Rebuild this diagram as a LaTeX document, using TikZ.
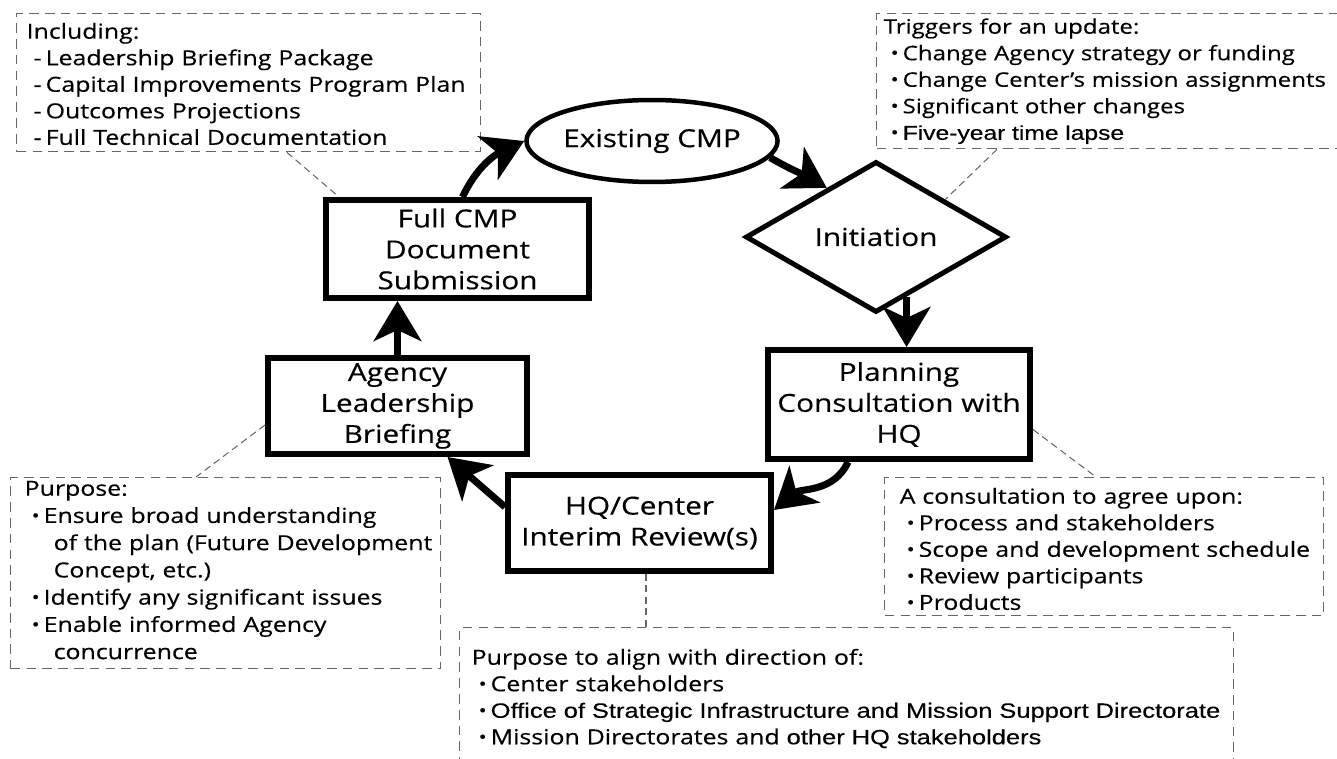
\documentclass[tikz,border=0pt]{standalone}
\usepackage{fontspec}
\setmainfont{Open Sans}[FakeStretch=1.2, FakeBold=0.4]
\newfontfamily\narrowfont{Liberation Sans}[FakeStretch=1.23, FakeBold=0.3]
\usetikzlibrary{shapes.geometric, arrows.meta, positioning, calc}
\newcommand{\bul}{\raisebox{0.1ex}{\fontsize{10}{10}\selectfont\textbullet}}
\newcommand{\hd}[1]{\mbox{#1}}
\newcommand{\itm}[1]{\mbox{\hspace*{0.14cm}\makebox[0.24cm][l]{\bul}#1}}
\newcommand{\dsh}[1]{\mbox{\hspace*{0.14cm}\makebox[0.24cm][l]{-}#1}}
\newcommand{\cont}[1]{\mbox{\hspace*{0.58cm}#1}}

\begin{document}
\begin{tikzpicture}[x=0.02cm, y=-0.02cm,
    stage/.style={draw, line width=0.12cm, align=center, inner sep=0pt, font=\fontsize{14.1}{17.6}\selectfont},
    oval/.style={draw, ellipse, line width=0.09cm, minimum width=4.95cm, minimum height=1.64cm, inner sep=0pt, font=\fontsize{14.1}{17.6}\selectfont},
    decision/.style={draw, diamond, line width=0.1cm, minimum width=5.22cm, minimum height=3.02cm, inner sep=0pt, font=\fontsize{14.1}{17.6}\selectfont},
    note/.style={draw=black!60, line width=0.8pt, dash pattern=on 5.5pt off 3.5pt, anchor=north west, align=left, inner ysep=0pt, font=\fontsize{11.8}{15.1}\selectfont},
    arr/.style={-{Stealth[length=0.8cm, width=0.95cm, inset=0.22cm]}, line width=0.14cm},
    link/.style={draw=black!60, line width=0.6pt, dash pattern=on 4pt off 2.5pt}
  ]
  \useasboundingbox (0,0) rectangle (1337,759);
  \clip (0,0) rectangle (1337,759);

  \node[oval] (existing) at (652,141) {Existing CMP};
  \node[decision] (init) at (876,237) {Initiation};
  \node[stage, minimum width=5.24cm, minimum height=2.18cm] (plan) at (899,404.5) {Planning\\Consultation with\\HQ};
  \node[stage, minimum width=5.26cm, minimum height=1.92cm] (hq) at (639.5,523) {HQ/Center\\Interim Review(s)};
  \node[stage, minimum width=5.18cm, minimum height=1.92cm] (agency) at (397.5,406) {Agency\\Leadership\\Briefing};
  \node[stage, minimum width=5.26cm, minimum height=1.96cm] (fullcmp) at (457.5,249) {Full CMP\\Document\\Submission};

  \node[note, inner xsep=0.2cm, text width=8.88cm, text height=0.5cm, text depth=2.26cm] (incl) at (16,13)
    {\hd{Including:}\\ \dsh{Leadership Briefing Package}\\ \dsh{Capital Improvements Program Plan}\\ \dsh{Outcomes Projections}\\ \dsh{Full Technical Documentation}};
  \node[note, inner xsep=0.14cm, text width=9.32cm, text height=0.4cm, text depth=2.30cm, font=\fontsize{11.4}{15.1}\selectfont] (trig) at (876,13)
    {\hd{Triggers for an update:}\\ \itm{Change Agency strategy or funding}\\ \itm{Change Center’s mission assignments}\\ \itm{Significant other changes}\\ \itm{\narrowfont Five-year time lapse}};
  \node[note, inner xsep=0.3cm, text width=8.18cm, text height=0.52cm, text depth=2.24cm] (cons) at (884,477)
    {\hd{A consultation to agree upon:}\\ \itm{Process and stakeholders}\\ \itm{Scope and development schedule}\\ \itm{Review participants}\\ \itm{Products}};
  \node[note, inner xsep=0.28cm, text width=8.04cm, text height=0.36cm, text depth=3.46cm, font=\fontsize{11.8}{15.5}\selectfont] (purp) at (10,477)
    {\hd{Purpose:}\\ \itm{Ensure broad understanding}\\ \cont{of the plan (Future Development}\\ \cont{Concept, etc.)}\\ \itm{Identify any significant issues}\\ \itm{Enable informed Agency}\\ \cont{concurrence}};
  \node[note, inner xsep=0.24cm, text width=15cm, text height=0.74cm, text depth=2.4cm] (align) at (459,627)
    {\hd{Purpose to align with direction of:}\\ \itm{Center stakeholders}\\ \itm{\narrowfont Office of Strategic Infrastructure and Mission Support Directorate}\\ \itm{Mission Directorates and {\narrowfont other HQ stakeholders}}};

  \draw[link] ([xshift=5.42cm]incl.south west) -- ([xshift=0.32cm]fullcmp.north west);
  \draw[link] ([xshift=2.42cm]trig.south west) -- ($(init.north)!0.52!(init.east)$);
  \draw[link] ([yshift=-0.5cm]plan.east) -- ([xshift=4.24cm]cons.north west);
  \coordinate (hqb) at ([xshift=0.13cm]hq.south);
  \draw[link] (hqb) -- (hqb |- align.north);
  \draw[link] ([yshift=-0.38cm]agency.west) -- ([xshift=3.72cm]purp.north west);

  \draw[arr] ([xshift=0.1cm]fullcmp.north) to[out=65, in=205] (existing.west);
  \draw[arr] (existing.-8) to[out=-30, in=150] ($(init.west)!0.63!(init.north)$);
  \coordinate (ia) at ($(init.south)!0.23!(init.east)$);
  \draw[arr] (ia) -- (ia |- plan.north);
  \draw[arr] ([xshift=-1.02cm]plan.south) to[out=-115, in=40] ([yshift=0.26cm]hq.east);
  \draw[arr] ([yshift=0.32cm]hq.west) -- ([xshift=1cm]agency.south);
  \draw[arr] (agency.north) -- (agency.north |- fullcmp.south);
\end{tikzpicture}
\end{document}
